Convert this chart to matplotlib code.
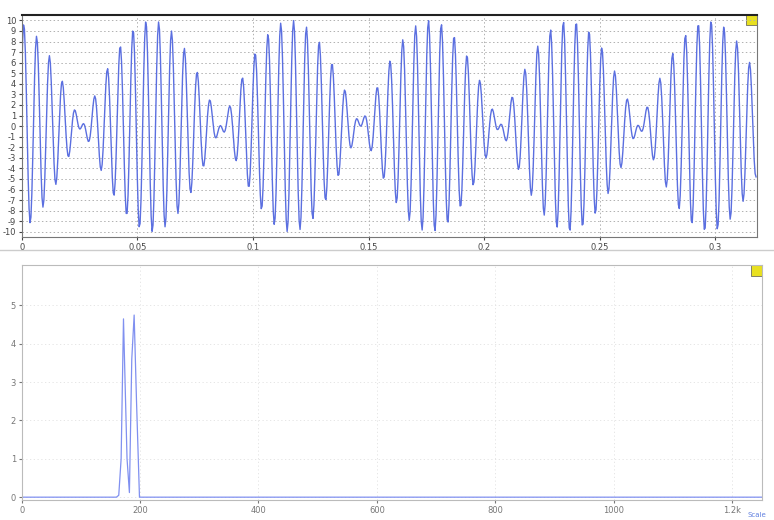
import numpy as np
import matplotlib
matplotlib.use("Agg")
import matplotlib.pyplot as plt
from matplotlib.patches import Rectangle

plt.rcParams["axes.unicode_minus"] = False

tone_freqs = [171.7, 188.3]
tone_amps = [5.0, 5.0]
tone_phases = [0.305, 0.735]
sample_rate = 2500.0
t_end = 0.318

# spectrum outline (Hz, magnitude)
spec_freq = [0, 160, 164, 168, 172, 175, 178, 182, 186, 190, 194, 199, 1250]
spec_mag = [0, 0, 0.05, 1.0, 4.65, 2.8, 1.0, 0.12, 3.6, 4.75, 2.5, 0, 0]

time_ticks = [0, 0.05, 0.1, 0.15, 0.2, 0.25, 0.3]
time_labels = ["0", "0.05", "0.1", "0.15", "0.2", "0.25", "0.3"]
freq_ticks = [0, 200, 400, 600, 800, 1000, 1200]
freq_labels = ["0", "200", "400", "600", "800", "1000", "1.2k"]

# build the time signal from the tones
t = np.arange(0, t_end, 1.0 / sample_rate)
sig = np.zeros_like(t)
for f, a, p in zip(tone_freqs, tone_amps, tone_phases):
    sig += a * np.sin(2 * np.pi * f * t + p)

fig = plt.figure(figsize=(7.74, 5.2), dpi=100)
fig.patch.set_facecolor("white")

# ---- top panel: time signal ----
ax1 = fig.add_axes([0.028, 0.544, 0.950, 0.427])
ax1.plot(t, sig, color="#5b6fe0", lw=1.0)
ax1.set_xlim(0, t_end)
ax1.set_ylim(-10.5, 10.5)
ax1.set_yticks(range(-10, 11))
ax1.set_xticks(time_ticks)
ax1.set_xticklabels(time_labels)
ax1.grid(True, color="#b0b0b0", ls=(0, (1.5, 2.5)), lw=0.7)
ax1.tick_params(labelsize=6, colors="#444444", length=2, pad=2)
for s in ax1.spines.values():
    s.set_color("#777777")
ax1.spines["top"].set_color("#222222")
ax1.spines["top"].set_linewidth(1.5)
ax1.add_patch(Rectangle((0.985, 0.955), 0.015, 0.045, transform=ax1.transAxes,
                        facecolor="#e8e020", edgecolor="#555555", lw=0.5, clip_on=False))

# ---- bottom panel: spectrum ----
ax2 = fig.add_axes([0.028, 0.038, 0.956, 0.452])
ax2.plot(spec_freq, spec_mag, color="#8090f0", lw=0.9)
ax2.set_xlim(0, 1250)
ax2.set_ylim(-0.08, 6.05)
ax2.set_yticks([0, 1, 2, 3, 4, 5])
ax2.set_xticks(freq_ticks)
ax2.set_xticklabels(freq_labels)
ax2.grid(True, color="#e2e2e2", ls=(0, (1.5, 3)), lw=0.6)
ax2.tick_params(labelsize=6, colors="#777777", length=2, pad=2)
for s in ax2.spines.values():
    s.set_color("#bbbbbb")
ax2.add_patch(Rectangle((0.985, 0.955), 0.015, 0.045, transform=ax2.transAxes,
                        facecolor="#e8e020", edgecolor="#555555", lw=0.5, clip_on=False))

# separator between the two windows
fig.add_artist(plt.Line2D([0, 1], [0.52, 0.52], color="#cccccc", lw=1.0))
fig.text(0.99, 0.003, "Scale", color="#6080e0", fontsize=5, ha="right", va="bottom")

fig.savefig("out.png", dpi=100)
